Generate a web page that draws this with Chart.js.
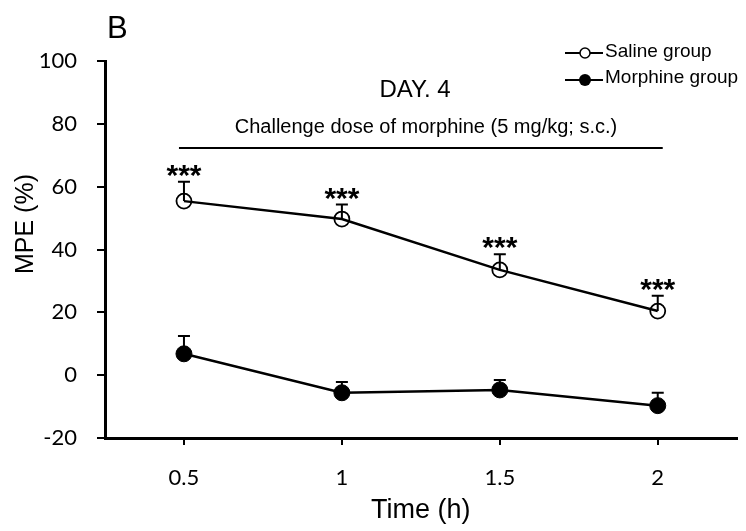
<!DOCTYPE html>
<html>
<head>
<meta charset="utf-8">
<script src="https://cdn.jsdelivr.net/npm/chart.js@4.4.1/dist/chart.umd.min.js"></script>
<style>
  html, body { margin: 0; padding: 0; background: #fff; }
  #wrap { width: 746px; height: 531px; }
</style>
</head>
<body>
<div id="wrap"><canvas id="mpeChart"></canvas></div>
<script>
// MPE (%) over time, day 4 challenge dose
const timeLabels = ['0.5', '1', '1.5', '2'];
const salineMean = [55.4, 49.7, 33.5, 20.4];
const salineErr = [6.2, 4.6, 5.0, 4.9];
const morphineMean = [6.8, -5.6, -4.7, -9.7];
const morphineErr = [5.7, 3.4, 3.2, 4.1];
const sigMarks = ['***', '***', '***', '***'];
const bracketValue = 72.3;

const SANS = "'Liberation Sans', Arial, sans-serif";
const TICK_FONT = { family: "Lato, 'Open Sans', sans-serif", size: 22 };

const annotations = {
    id: 'annotations',
    beforeDatasetsDraw(chart) {
        const { ctx, scales: { x, y } } = chart;
        ctx.save();
        ctx.strokeStyle = '#000';
        ctx.lineWidth = 2;
        [[salineMean, salineErr], [morphineMean, morphineErr]].forEach(([mean, err]) => {
            mean.forEach((v, i) => {
                const px = x.getPixelForValue(i);
                const y0 = y.getPixelForValue(v);
                const y1 = y.getPixelForValue(v + err[i]);
                ctx.beginPath();
                ctx.moveTo(px, y0);
                ctx.lineTo(px, y1);
                ctx.moveTo(px - 6, y1);
                ctx.lineTo(px + 6, y1);
                ctx.stroke();
            });
        });
        ctx.restore();
    },
    afterDraw(chart) {
        const { ctx, scales: { x, y } } = chart;
        ctx.save();
        ctx.fillStyle = '#000';
        ctx.strokeStyle = '#000';

        // significance stars above saline error bars
        ctx.font = 'bold 30px ' + SANS;
        ctx.textAlign = 'center';
        ctx.textBaseline = 'alphabetic';
        sigMarks.forEach((s, i) => {
            const px = x.getPixelForValue(i);
            const top = y.getPixelForValue(salineMean[i] + salineErr[i]);
            const m = ctx.measureText(s);
            const centre = top - 11;
            ctx.fillText(s, px, centre + (m.actualBoundingBoxAscent - m.actualBoundingBoxDescent) / 2);
        });

        // challenge dose bracket
        const by = y.getPixelForValue(bracketValue);
        ctx.lineWidth = 2;
        ctx.beginPath();
        ctx.moveTo(x.getPixelForValue(0) - 5, by);
        ctx.lineTo(x.getPixelForValue(3) + 5, by);
        ctx.stroke();

        ctx.font = '20px ' + SANS;
        ctx.fillText('Challenge dose of morphine (5 mg/kg; s.c.)', 426, 133);
        ctx.font = '24px ' + SANS;
        ctx.fillText('DAY. 4', 415, 97);

        // panel letter
        ctx.textAlign = 'left';
        ctx.font = '31px ' + SANS;
        ctx.fillText('B', 107, 38);

        // legend
        ctx.font = '19px ' + SANS;
        ctx.lineWidth = 2;
        ctx.beginPath();
        ctx.moveTo(565, 53); ctx.lineTo(603, 53);
        ctx.moveTo(565, 80); ctx.lineTo(603, 80);
        ctx.stroke();
        ctx.beginPath();
        ctx.arc(585, 53, 5, 0, Math.PI * 2);
        ctx.fillStyle = '#fff';
        ctx.fill();
        ctx.lineWidth = 1.5;
        ctx.stroke();
        ctx.beginPath();
        ctx.arc(585, 80, 6, 0, Math.PI * 2);
        ctx.fillStyle = '#000';
        ctx.fill();
        ctx.fillText('Saline group', 605, 57);
        ctx.fillText('Morphine group', 605, 83);

        // y axis title
        ctx.translate(33, 224);
        ctx.rotate(-Math.PI / 2);
        ctx.textAlign = 'center';
        ctx.font = '25px ' + SANS;
        ctx.fillText('MPE (%)', 0, 0);
        ctx.restore();
    }
};

new Chart(document.getElementById('mpeChart'), {
    type: 'line',
    data: {
        labels: timeLabels,
        datasets: [
            {
                label: 'Saline group',
                data: salineMean,
                borderColor: '#000',
                borderWidth: 2.5,
                pointRadius: 7.5,
                pointBorderWidth: 1.8,
                pointBorderColor: '#000',
                pointBackgroundColor: 'rgba(255,255,255,0)',
                tension: 0
            },
            {
                label: 'Morphine group',
                data: morphineMean,
                borderColor: '#000',
                borderWidth: 2.5,
                pointRadius: 8,
                pointBorderWidth: 1,
                pointBorderColor: '#000',
                pointBackgroundColor: '#000',
                tension: 0
            }
        ]
    },
    options: {
        responsive: true,
        maintainAspectRatio: false,
        animation: false,
        devicePixelRatio: 1,
        layout: { padding: { top: 61, right: 1, left: 0, bottom: 0 } },
        plugins: {
            legend: { display: false },
            tooltip: { enabled: false }
        },
        scales: {
            x: {
                type: 'category',
                offset: true,
                grid: { drawOnChartArea: false, drawTicks: true, tickLength: 7, color: '#000', lineWidth: 2 },
                border: { color: '#000', width: 3 },
                ticks: { font: TICK_FONT, color: '#000', padding: 20 },
                title: {
                    display: true,
                    text: 'Time (h)',
                    color: '#000',
                    font: { family: SANS, size: 27 },
                    padding: { top: 0, bottom: 4 }
                },
                afterFit(scale) { scale.height = 93; }
            },
            y: {
                min: -20,
                max: 100,
                grid: { drawOnChartArea: false, drawTicks: true, tickLength: 8, color: '#000', lineWidth: 2 },
                border: { color: '#000', width: 3 },
                ticks: { stepSize: 20, font: TICK_FONT, color: '#000', padding: 20 },
                afterFit(scale) { scale.width = 105; }
            }
        }
    },
    plugins: [annotations]
});
</script>
</body>
</html>
